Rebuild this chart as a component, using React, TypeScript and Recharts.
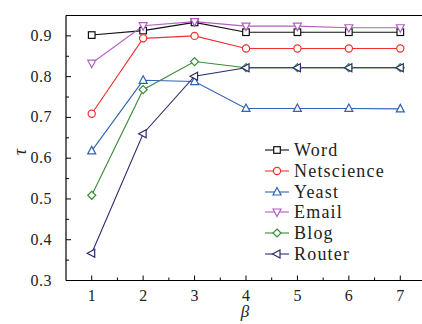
import React from 'react';
import { LineChart, Line, XAxis, YAxis, ReferenceLine } from 'recharts';

const betas = [1, 2, 3, 4, 5, 6, 7];
const word = [0.902, 0.913, 0.933, 0.909, 0.909, 0.909, 0.909];
const netscience = [0.709, 0.894, 0.9, 0.869, 0.869, 0.869, 0.869];
const yeast = [0.618, 0.791, 0.788, 0.722, 0.722, 0.722, 0.721];
const email = [0.833, 0.925, 0.935, 0.924, 0.924, 0.92, 0.92];
const blog = [0.509, 0.768, 0.837, 0.822, 0.822, 0.822, 0.822];
const router = [0.367, 0.66, 0.801, 0.822, 0.822, 0.822, 0.822];

const xTicks = [1, 1.5, 2, 2.5, 3, 3.5, 4, 4.5, 5, 5.5, 6, 6.5, 7, 7.5];
const yTicks = [0.3, 0.35, 0.4, 0.45, 0.5, 0.55, 0.6, 0.65, 0.7, 0.75, 0.8, 0.85, 0.9];

const seriesNames = ['Word', 'Netscience', 'Yeast', 'Email', 'Blog', 'Router'];
const seriesKeys = ['word', 'netscience', 'yeast', 'email', 'blog', 'router'];
const seriesColors = ['#111111', '#f03030', '#2f62b8', '#b060c0', '#3a8a3a', '#2c2c6c'];
const seriesShapes = ['square', 'circle', 'up', 'down', 'diamond', 'left'];

const data = betas.map((b, i) => ({
  beta: b,
  word: word[i],
  netscience: netscience[i],
  yeast: yeast[i],
  email: email[i],
  blog: blog[i],
  router: router[i],
}));

const FONT = '"Liberation Serif", "DejaVu Serif", serif';

function Marker({ shape, color, cx, cy }: { shape: string; color: string; cx: number; cy: number }) {
  const common = { fill: '#fff', stroke: color, strokeWidth: 1.2 };
  switch (shape) {
    case 'square':
      return <rect x={cx - 3.3} y={cy - 3.3} width={6.6} height={6.6} {...common} />;
    case 'circle':
      return <circle cx={cx} cy={cy} r={3.6} {...common} />;
    case 'up':
      return <polygon points={`${cx},${cy - 4.5} ${cx - 4},${cy + 3} ${cx + 4},${cy + 3}`} {...common} />;
    case 'down':
      return <polygon points={`${cx},${cy + 4.5} ${cx - 4},${cy - 3} ${cx + 4},${cy - 3}`} {...common} />;
    case 'diamond':
      return <polygon points={`${cx},${cy - 4} ${cx + 4},${cy} ${cx},${cy + 4} ${cx - 4},${cy}`} {...common} />;
    case 'left':
      return <polygon points={`${cx - 4.5},${cy} ${cx + 3},${cy - 4} ${cx + 3},${cy + 4}`} {...common} />;
    default:
      return null;
  }
}

function XTick(props: any) {
  const { x, y, payload } = props;
  const v = payload.value;
  const major = Number.isInteger(v);
  return (
    <g>
      <line x1={x} x2={x} y1={y} y2={y - (major ? 5 : 3)} stroke="#000" strokeWidth={1} />
      {major && (
        <text x={x} y={y + 20} textAnchor="middle" fontFamily={FONT} fontSize={16} fill="#222">
          {v}
        </text>
      )}
    </g>
  );
}

function YTick(props: any) {
  const { x, y, payload } = props;
  const v = payload.value;
  const major = Math.abs(v * 10 - Math.round(v * 10)) < 1e-6;
  return (
    <g>
      <line x1={x} x2={x + (major ? 5 : 3)} y1={y} y2={y} stroke="#000" strokeWidth={1} />
      {major && (
        <text x={x - 14} y={y + 5} textAnchor="end" fontFamily={FONT} fontSize={16} letterSpacing={0.5} fill="#222">
          {v.toFixed(1)}
        </text>
      )}
    </g>
  );
}

export default function App() {
  return (
    <div style={{ position: 'absolute', left: 0, top: 0, width: 422, height: 324, overflow: 'hidden', background: '#fff' }}>
      <LineChart width={426} height={324} data={data} margin={{ top: 15.5, right: 0, left: 6, bottom: 13.5 }}>
        <XAxis
          dataKey="beta"
          type="number"
          domain={[0.5, 7.5]}
          ticks={xTicks}
          interval={0}
          tickSize={0}
          tickMargin={0}
          tickLine={false}
          tick={<XTick />}
          axisLine={{ stroke: '#000', strokeWidth: 1.2 }}
          height={30}
        />
        <YAxis
          type="number"
          domain={[0.3, 0.95]}
          ticks={yTicks}
          interval={0}
          tickSize={0}
          tickMargin={0}
          tickLine={false}
          tick={<YTick />}
          axisLine={{ stroke: '#000', strokeWidth: 1.2 }}
          width={60}
          allowDataOverflow
        />
        <ReferenceLine y={0.95} stroke="#000" strokeWidth={1.2} ifOverflow="extendDomain" />
        {seriesKeys.map((k, i) => (
          <Line
            key={k}
            dataKey={k}
            stroke={seriesColors[i]}
            strokeWidth={1.1}
            isAnimationActive={false}
            dot={(p: any) => (
              <Marker key={`${k}-${p.index}`} shape={seriesShapes[i]} color={seriesColors[i]} cx={p.cx} cy={p.cy} />
            )}
            activeDot={false}
          />
        ))}
      </LineChart>
      <div style={{ position: 'absolute', left: 262, top: 140, fontFamily: FONT, fontSize: 18, letterSpacing: 1.2, color: '#222' }}>
        {seriesNames.map((n, i) => (
          <div key={n} style={{ display: 'flex', alignItems: 'center', height: 20.7 }}>
            <svg width={30} height={20} style={{ display: 'block' }}>
              <line x1={3} x2={27} y1={10} y2={10} stroke={seriesColors[i]} strokeWidth={1.1} />
              <Marker shape={seriesShapes[i]} color={seriesColors[i]} cx={15} cy={10} />
            </svg>
            <span style={{ marginLeft: 2, lineHeight: '20px' }}>{n}</span>
          </div>
        ))}
      </div>
      <div
        style={{
          position: 'absolute',
          left: 12,
          top: 142,
          width: 16,
          height: 20,
          fontFamily: FONT,
          fontStyle: 'italic',
          fontSize: 18,
          color: '#222',
          transform: 'rotate(-90deg)',
          textAlign: 'center',
          lineHeight: '20px',
        }}
      >
        τ
      </div>
      <div
        style={{
          position: 'absolute',
          left: 237,
          top: 302,
          width: 16,
          fontFamily: FONT,
          fontStyle: 'italic',
          fontSize: 17,
          color: '#222',
          textAlign: 'center',
          lineHeight: '20px',
        }}
      >
        β
      </div>
    </div>
  );
}
